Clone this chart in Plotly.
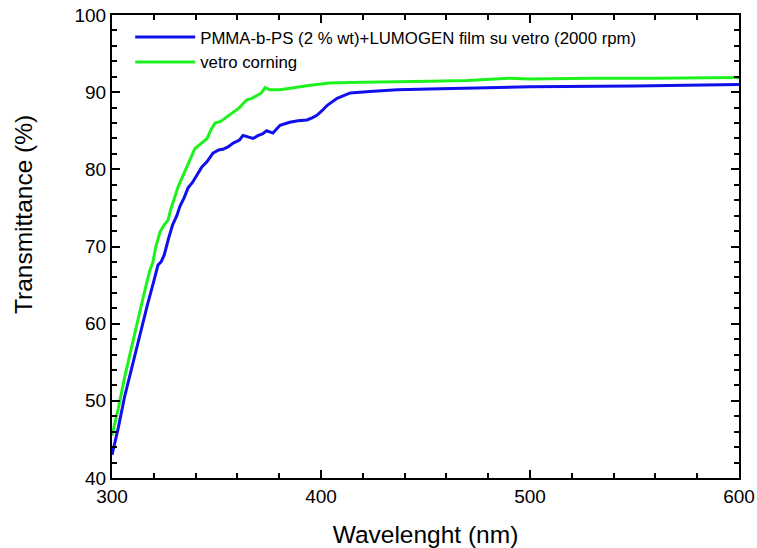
"""Transmittance spectra: PMMA-b-PS + LUMOGEN film on glass vs bare Corning glass."""
import plotly.graph_objects as go

# wavelength (nm) and transmittance (%)
wl_film = [300, 303, 306, 309, 311.5, 314, 317, 320, 322, 323.5, 325, 327, 329, 331,
           332.5, 334.5, 336.4, 338.5, 340.7, 343, 345.5, 348.3, 351, 353, 355.5, 358,
           361, 362.7, 365, 367.5, 370, 372, 374, 377, 380.4, 385, 389, 393.3, 396, 398,
           400.5, 403, 407.7, 414, 423.4, 436.4, 452, 480, 500, 550, 600]
t_film = [43, 46.5, 50.5, 53.8, 56.6, 59.5, 62.5, 65.5, 67.6, 68, 68.9, 71, 72.8, 74,
          75.2, 76.3, 77.6, 78.3, 79.2, 80.3, 81, 82.1, 82.5, 82.6, 82.9, 83.4,
          83.8, 84.4, 84.2, 84, 84.4, 84.6, 85, 84.7, 85.7, 86.1, 86.3, 86.4, 86.7, 87,
          87.6, 88.3, 89.2, 89.9, 90.1, 90.3, 90.4, 90.6, 90.7, 90.8, 91.0]

wl_glass = [300, 303, 306, 309, 312, 315, 318, 319.6, 321, 323, 325, 326.8, 328, 330,
            331.6, 333.5, 336, 338, 339.7, 342, 345.5, 347.5, 349.3, 352, 354, 357,
            361, 363, 364.6, 367, 369.9, 371.5, 373.2, 375.6, 380.4, 385, 388.5, 395,
            404, 420, 452, 470, 490, 500, 530, 560, 600]
t_glass = [45.5, 49, 53, 56.6, 60, 63.5, 66.8, 68, 70, 71.9, 72.8, 73.4, 74.7, 76.3,
           77.7, 78.9, 80.5, 81.8, 82.7, 83.2, 84, 85.2, 86, 86.2, 86.6, 87.3,
           88, 88.6, 89, 89.2, 89.6, 89.9, 90.6, 90.3, 90.3, 90.5, 90.6, 90.9,
           91.2, 91.3, 91.4, 91.5, 91.8, 91.7, 91.8, 91.8, 91.9]

FONT = 'Liberation Sans, Arial'

fig = go.Figure()

fig.add_trace(go.Scatter(
    x=wl_film, y=t_film,
    mode='lines',
    line=dict(color='#1010ec', width=3),
    name='PMMA-b-PS (2 % wt)+LUMOGEN film su vetro (2000 rpm)',
))
fig.add_trace(go.Scatter(
    x=wl_glass, y=t_glass,
    mode='lines',
    line=dict(color='#1ef21e', width=3),
    name='vetro corning',
))

axis_common = dict(
    showline=True, linecolor='black', linewidth=2,
    mirror='ticks', ticks='inside', ticklen=8, tickwidth=2, tickcolor='black',
    showgrid=False, zeroline=False,
    tickfont=dict(family=FONT, size=19, color='black'),
)

fig.update_xaxes(
    range=[300, 600], dtick=100, tick0=300,
    minor=dict(ticks='inside', ticklen=5, tickwidth=2, tickcolor='black', dtick=20, showgrid=False),
    title=dict(text='Wavelenght (nm)', font=dict(family=FONT, size=24.5, color='black'), standoff=20),
    **axis_common,
)
fig.update_yaxes(
    range=[40, 100], dtick=10,
    minor=dict(ticks='inside', ticklen=5, tickwidth=2, tickcolor='black', dtick=2, showgrid=False),
    **axis_common,
)

# y title sits a bit above the middle of the axis in the original, so place it by hand
fig.add_annotation(
    text='Transmittance (%)', textangle=-90,
    xref='paper', yref='paper', x=-0.142, y=0.57,
    xanchor='center', yanchor='middle', showarrow=False,
    font=dict(family=FONT, size=24.5, color='black'),
)

fig.update_layout(
    width=757, height=548,
    margin=dict(l=112, r=18, t=15, b=70, autoexpand=False),
    plot_bgcolor='white', paper_bgcolor='white',
    showlegend=True,
    legend=dict(
        x=0.029, y=0.99, xanchor='left', yanchor='top',
        bgcolor='rgba(0,0,0,0)', borderwidth=0,
        font=dict(family=FONT, size=16.8, color='black'),
        itemwidth=60, tracegroupgap=0,
    ),
)

# drop the default page margin so the figure sits at the window's corner
fig.write_html('out.html', config={'displayModeBar': False},
               post_script="document.body.style.margin='0';")
